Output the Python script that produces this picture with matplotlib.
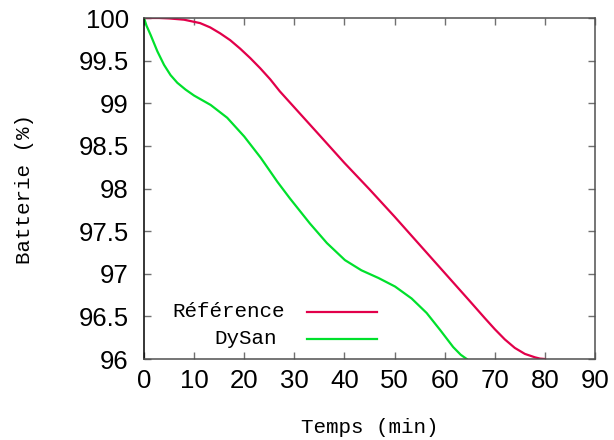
import matplotlib
matplotlib.use("Agg")
import matplotlib.pyplot as plt

# Battery level over time
ref_time = [0, 3, 5, 8, 11.2, 13.2, 15.2, 17.2, 19.2, 21.2, 23.2, 25.2, 27.1,
            31.1, 35.1, 40, 45, 50, 55, 60, 65, 68, 70, 72, 74, 76, 78, 79, 80]
ref_level = [100, 100, 99.995, 99.98, 99.94, 99.89, 99.82, 99.74, 99.64, 99.53,
             99.41, 99.28, 99.14, 98.88, 98.62, 98.3, 97.99, 97.67, 97.34, 97.01,
             96.68, 96.48, 96.35, 96.23, 96.13, 96.06, 96.02, 96.005, 96.0]

dysan_time = [0, 0.5, 1.33, 2.66, 4, 5.3, 6.65, 8.3, 10, 13.3, 16.6, 20, 23.3, 26.6,
              29.1, 33.1, 36.5, 40.1, 43.4, 46.8, 50.1, 53.4, 56.4, 59.1, 61.7,
              63.2, 64.4]
dysan_level = [100, 99.91, 99.8, 99.61, 99.45, 99.33, 99.24, 99.16, 99.09, 98.98,
               98.83, 98.61, 98.36, 98.08, 97.885, 97.59, 97.36, 97.16, 97.04,
               96.95, 96.85, 96.71, 96.54, 96.34, 96.14, 96.05, 96.0]

labels = ["Référence", "DySan"]
colors = ["#e2004a", "#00e02c"]

x_ticks = list(range(0, 91, 10))
y_ticks = [96, 96.5, 97, 97.5, 98, 98.5, 99, 99.5, 100]
y_tick_labels = ["96", "96.5", "97", "97.5", "98", "98.5", "99", "99.5", "100"]

fig = plt.figure(figsize=(6.14, 4.40), dpi=100)
ax = fig.add_axes([144 / 614, 1 - 359 / 440, 451 / 614, 341 / 440])

ax.plot(ref_time, ref_level, color=colors[0], linewidth=1.6, solid_joinstyle="round")
ax.plot(dysan_time, dysan_level, color=colors[1], linewidth=1.6, solid_joinstyle="round")

ax.set_xlim(0, 90)
ax.set_ylim(96, 100)
ax.set_xticks(x_ticks)
ax.set_yticks(y_ticks)
ax.set_yticklabels(y_tick_labels)

for lbl in ax.get_xticklabels() + ax.get_yticklabels():
    lbl.set_fontfamily("Liberation Sans")
    lbl.set_fontsize(18.5)

ax.tick_params(axis="both", direction="in", length=5, width=1, color="#707070",
               top=True, right=True)
ax.tick_params(axis="y", pad=11)
ax.tick_params(axis="x", pad=7)

for side, spine in ax.spines.items():
    spine.set_linewidth(1.1)
    spine.set_color("black" if side == "left" else "#505050")

mono = {"family": "Liberation Mono", "size": 15}
ax.set_xlabel("Temps (min)", fontdict=mono, labelpad=18.5)
ax.set_ylabel("Batterie (%)", fontdict=mono, labelpad=32)

# key drawn like gnuplot: right-justified text, sample line to its right
key_y = [0.138, 0.059]
key_text_right = [0.313, 0.295]
for lab, col, ky, kx in zip(labels, colors, key_y, key_text_right):
    ax.text(kx, ky, lab, transform=ax.transAxes, ha="right", va="center",
            fontdict=mono)
    ax.plot([0.361, 0.517], [ky, ky], transform=ax.transAxes, color=col,
            linewidth=1.6)

fig.savefig("out.png", dpi=100)
